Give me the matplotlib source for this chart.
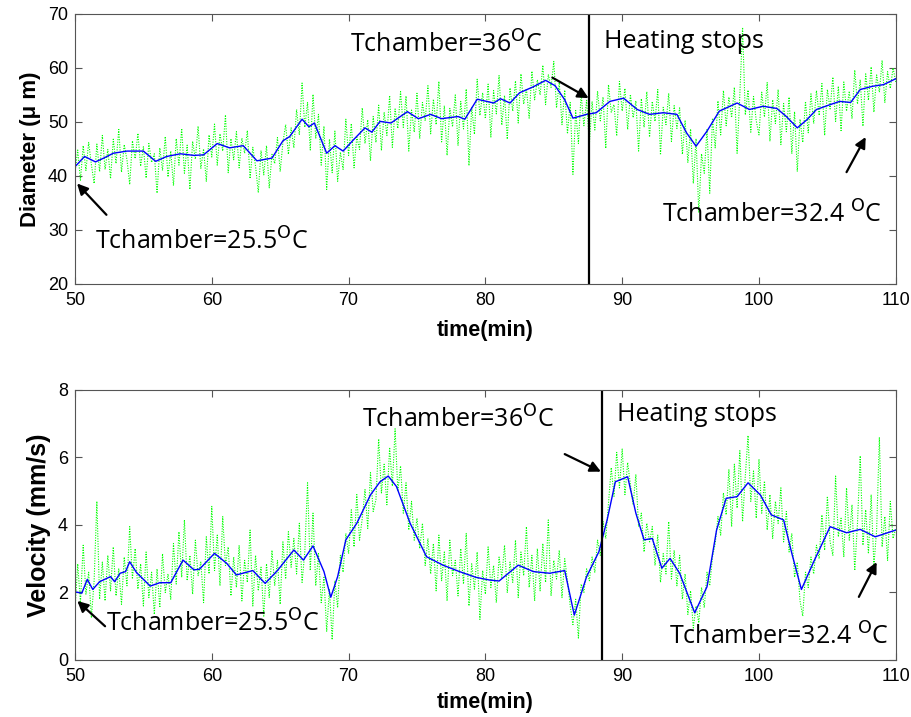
import numpy as np
import matplotlib
matplotlib.use("Agg")
import matplotlib.pyplot as plt

# ---- data ----
t_raw = np.linspace(50, 110, 301)   # raw samples every 0.2 min

diam_raw = [
    40.5, 44.8, 39.2, 45.6, 41.0, 46.2, 42.1, 38.6, 45.9, 40.8,
    47.5, 41.2, 44.9, 39.5, 46.8, 42.3, 48.6, 40.7, 45.8, 43.0,
    38.4, 46.5, 43.2, 47.9, 41.8, 45.4, 39.6, 46.0, 42.5, 44.1,
    36.8, 45.2, 41.0, 47.3, 39.8, 44.6, 38.2, 46.9, 42.0, 48.8,
    40.5, 45.7, 37.5, 46.4, 43.1, 49.2, 41.4, 45.0, 39.0, 47.6,
    43.5, 49.6, 42.0, 47.8, 44.6, 51.3, 40.6, 46.9, 43.0, 48.2,
    41.5, 47.0, 44.2, 48.4, 39.5, 45.3, 41.8, 36.9, 44.7, 40.2,
    45.6, 37.8, 44.0, 42.3, 47.1, 40.8, 46.2, 49.5, 44.0, 48.9,
    45.2, 52.3, 47.6, 57.2, 49.0, 53.6, 44.8, 55.1, 47.0, 51.4,
    42.0, 49.2, 37.5, 46.8, 40.6, 48.3, 39.0, 44.4, 41.2, 50.5,
    43.8, 49.7, 41.5, 47.2, 44.9, 52.6, 46.0, 50.4, 42.8, 51.0,
    46.2, 53.1, 44.7, 51.8, 47.5, 54.9, 45.3, 52.4, 48.8, 55.6,
    49.0, 54.8, 44.6, 52.2, 48.1, 55.3, 46.9, 53.6, 50.2, 56.7,
    47.8, 54.2, 49.5, 57.5, 46.3, 53.0, 43.8, 52.5, 49.1, 55.0,
    45.6, 53.8, 48.7, 56.1, 41.9, 52.8, 47.7, 57.9, 51.2, 55.4,
    50.6, 57.0, 47.2, 55.8, 51.5, 58.6, 49.4, 54.9, 46.8, 56.3,
    52.0, 57.6, 49.8, 58.9, 53.3, 56.2, 50.7, 59.4, 54.1, 57.8,
    55.0, 60.5, 53.2, 58.8, 56.4, 61.2, 52.6, 57.3, 49.5, 55.9,
    47.8, 53.6, 40.3, 52.1, 46.0, 55.2, 49.3, 54.0, 45.9, 53.8,
    48.5, 55.7, 50.2, 54.6, 45.1, 56.9, 51.8, 53.2, 47.4, 57.5,
    52.0, 56.2, 48.6, 55.1, 50.8, 53.9, 44.6, 54.3, 49.0, 55.6,
    47.2, 53.8, 50.1, 56.0, 43.9, 52.7, 49.5, 55.3, 46.4, 53.0,
    48.8, 52.6, 44.0, 50.3, 42.5, 48.7, 38.6, 46.9, 33.2, 44.1,
    40.5, 48.6, 36.8, 50.7, 45.2, 53.9, 47.6, 55.8, 49.3, 54.6,
    50.8, 56.4, 44.2, 55.0, 67.5, 51.3, 55.9, 48.1, 54.7, 50.2,
    47.6, 55.5, 50.9, 57.3, 46.4, 54.1, 49.7, 56.0, 45.8, 53.4,
    48.2, 54.6, 44.1, 51.9, 40.8, 50.5, 46.2, 53.8, 48.0, 55.2,
    49.7, 55.8, 51.2, 57.1, 47.5, 56.0, 52.4, 58.3, 50.1, 56.6,
    48.4, 57.4, 52.0, 55.7, 50.6, 59.6, 53.3, 57.8, 49.2, 58.9,
    54.0, 60.2, 51.8, 58.7, 55.5, 61.4, 53.6, 59.3, 56.2, 60.0,
    57.4,
]

vel_raw = [
    1.45, 2.85, 1.70, 3.40, 1.95, 2.60, 1.25, 2.35, 4.70, 1.80,
    2.90, 1.75, 3.10, 2.05, 3.35, 1.90, 2.70, 1.65, 3.05, 2.20,
    3.95, 2.40, 3.30, 2.10, 2.85, 1.60, 3.20, 1.85, 2.60, 1.35,
    2.70, 1.55, 3.15, 2.00, 2.55, 1.80, 3.45, 2.25, 3.80, 2.45,
    4.15, 2.35, 3.10, 1.95, 3.55, 2.50, 2.90, 1.70, 3.65, 2.55,
    4.55, 2.65, 3.70, 2.20, 4.25, 2.80, 3.35, 1.90, 3.05, 2.15,
    3.40, 1.75, 2.95, 2.30, 3.85, 1.60, 3.10, 2.05, 2.75, 1.30,
    2.85, 1.85, 3.25, 2.20, 2.95, 1.65, 3.50, 2.40, 3.80, 2.75,
    3.60, 2.55, 4.05, 2.30, 3.20, 5.25, 2.65, 4.35, 2.20, 3.15,
    1.70, 2.45, 0.85, 2.10, 0.60, 2.35, 1.55, 3.10, 2.60, 3.75,
    3.15, 4.45, 3.35, 4.90, 3.55, 4.20, 5.05, 3.90, 5.55, 4.40,
    4.75, 6.55, 4.95, 5.80, 4.60, 6.30, 5.15, 6.85, 5.00, 5.75,
    4.35, 5.25, 3.85, 4.70, 3.55, 4.20, 3.30, 4.05, 2.80, 3.60,
    2.55, 3.45, 2.05, 3.70, 2.35, 3.20, 1.75, 3.55, 2.50, 2.95,
    1.90, 3.30, 2.25, 3.75, 1.60, 2.85, 2.10, 3.20, 1.20, 2.65,
    1.95, 3.35, 2.15, 2.80, 1.70, 3.05, 2.45, 3.40, 2.00, 2.90,
    2.30, 3.55, 1.85, 3.20, 2.50, 3.95, 2.15, 3.10, 1.75, 3.30,
    2.05, 3.45, 2.30, 4.15, 1.90, 2.95, 2.40, 3.25, 1.85, 3.00,
    2.35, 1.60, 1.05, 1.80, 0.65, 2.25, 2.00, 2.70, 2.35, 3.05,
    2.60, 3.55, 3.10, 4.10, 3.60, 4.65, 5.70, 4.85, 6.15, 5.10,
    6.25, 4.90, 5.85, 5.20, 4.60, 5.50, 3.95, 4.35, 3.20, 4.05,
    3.50, 3.95, 2.80, 3.70, 2.30, 3.15, 2.55, 4.10, 2.40, 3.25,
    2.20, 3.10, 1.80, 2.55, 1.35, 2.05, 0.95, 1.60, 1.10, 2.15,
    1.55, 2.60, 2.20, 3.05, 3.45, 4.25, 3.70, 4.95, 4.30, 5.65,
    3.95, 5.80, 4.50, 6.20, 4.10, 5.45, 6.65, 4.70, 5.60, 4.20,
    5.95, 4.35, 5.30, 3.85, 4.90, 3.60, 4.70, 4.05, 5.10, 3.50,
    4.40, 3.20, 3.75, 2.45, 2.90, 1.75, 1.30, 2.60, 2.15, 3.05,
    2.55, 3.40, 3.00, 4.30, 3.25, 4.85, 3.50, 3.10, 5.45, 3.65,
    4.20, 3.05, 5.10, 3.55, 4.60, 2.65, 4.05, 6.05, 3.40, 4.45,
    3.15, 4.90, 2.80, 3.85, 6.60, 3.35, 4.25, 2.95, 4.70, 3.60,
    3.90,
]

# smoothed curves (blue)
t_dsm = [50.0, 50.7, 51.5, 52.1, 52.8, 53.8, 55.0, 55.9, 56.7, 57.7, 58.7, 59.4,
         60.4, 61.3, 62.3, 63.3, 64.4, 65.2, 65.7, 66.6, 67.1, 67.5, 68.4, 69.0,
         69.6, 70.4, 71.2, 71.7, 72.3, 73.1, 74.3, 75.1, 76.0, 76.8, 78.0, 78.5,
         79.4, 80.1, 80.6, 81.1, 81.8, 82.5, 83.5, 84.4, 85.1, 85.8, 86.4, 87.4,
         88.1, 89.1, 90.1, 91.1, 92.0, 93.0, 94.0, 94.7, 95.4, 96.2, 97.1, 98.4,
         99.3, 100.3, 101.3, 102.0, 102.8, 103.5, 104.2, 105.2, 105.9, 106.7,
         107.4, 108.3, 109.1, 110.0]
diam_sm = [41.7, 43.6, 42.6, 43.3, 44.2, 44.6, 44.6, 42.7, 43.6, 44.1, 43.8, 43.9,
           46.0, 45.2, 45.6, 42.8, 43.3, 46.5, 47.3, 50.5, 49.1, 49.8, 44.2, 45.6,
           44.6, 46.8, 48.9, 48.1, 50.1, 49.8, 51.9, 50.6, 51.4, 50.6, 51.0, 50.5,
           54.2, 53.8, 53.5, 54.3, 53.5, 55.4, 56.5, 57.7, 56.7, 54.1, 50.7, 51.4,
           51.7, 53.8, 54.4, 52.3, 51.4, 51.7, 51.4, 48.0, 45.5, 48.3, 52.0, 53.5,
           52.3, 52.9, 52.5, 51.0, 48.9, 50.4, 52.3, 53.2, 53.8, 53.6,
           56.0, 56.6, 56.9, 58.0]

t_vsm = [50.0, 50.5, 50.9, 51.3, 51.8, 52.6, 52.9, 53.3, 53.7, 54.0, 54.5, 55.5,
         56.2, 57.0, 57.9, 58.7, 59.1, 60.2, 61.1, 61.8, 63.0, 63.9, 64.8, 66.0,
         66.7, 67.4, 68.2, 68.7, 69.2, 69.8, 70.6, 71.6, 72.3, 72.9, 73.5, 74.5,
         75.7, 76.9, 78.1, 79.3, 80.3, 81.0, 82.4, 83.5, 84.7, 85.8, 86.5, 87.4,
         88.3, 88.9, 89.5, 90.4, 91.0, 91.6, 92.2, 92.9, 93.5, 94.2, 95.3, 96.2,
         96.9, 97.6, 98.4, 99.2, 100.1, 100.9, 101.8, 102.4, 103.1, 104.0, 105.2,
         106.4, 107.4, 108.5, 110.0]
vel_sm = [2.02, 1.98, 2.39, 2.09, 2.32, 2.47, 2.32, 2.57, 2.62, 2.91, 2.59, 2.19,
          2.29, 2.29, 2.96, 2.67, 2.69, 3.16, 2.86, 2.52, 2.65, 2.27, 2.65, 3.26,
          2.96, 3.38, 2.62, 1.86, 2.47, 3.56, 4.05, 4.89, 5.28, 5.45, 5.14, 4.05,
          3.06, 2.81, 2.62, 2.45, 2.37, 2.34, 2.81, 2.62, 2.57, 2.65, 1.33, 2.47,
          3.21, 4.15, 5.28, 5.43, 4.35, 3.56, 3.60, 2.72, 3.01, 2.57, 1.40, 2.17,
          3.85, 4.79, 4.84, 5.25, 4.89, 4.30, 4.15, 3.16, 2.09, 2.91, 3.95,
          3.77, 3.87, 3.65, 3.85]

stop_d = 87.6   # heating stops, top panel
stop_v = 88.5   # heating stops, bottom panel

lbl_font = "Open Sans"
tick_font = "Liberation Sans"


def style_axes(ax, xpad):
    ax.tick_params(direction="in", top=True, right=True, length=5,
                   width=0.8, color="#555555", labelsize=13)
    ax.tick_params(axis="x", pad=6)
    ax.tick_params(axis="y", pad=5)
    for lab in ax.get_xticklabels() + ax.get_yticklabels():
        lab.set_fontfamily(tick_font)
    for s in ax.spines.values():
        s.set_color("#555555")
        s.set_linewidth(0.8)
    ax.set_xlim(50, 110)
    ax.set_xticks(range(50, 111, 10))
    ax.set_xlabel("time(min)", fontsize=15.5, fontweight="bold",
                  family="Liberation Sans", labelpad=xpad)


fig = plt.figure(figsize=(9.11, 7.17), dpi=100)
ax1 = fig.add_axes([0.0823, 0.604, 0.901, 0.3766])
ax2 = fig.add_axes([0.0823, 0.0795, 0.901, 0.3766])

arrow = dict(arrowstyle="-|>", color="black", lw=1.6, mutation_scale=16,
             shrinkA=0, shrinkB=0)
green = dict(color="#00ff00", lw=0.8, dashes=(1, 1.3))

# ---- diameter ----
ax1.plot(t_raw, diam_raw, **green)
ax1.plot(t_dsm, diam_sm, "-", color="#0000ff", lw=1.0)
ax1.axvline(stop_d, color="black", lw=1.6)
ax1.set_ylim(20, 70)
ax1.set_yticks(range(20, 71, 10))
style_axes(ax1, 8)
ax1.set_ylabel("Diameter (\u03bc m)", fontsize=16, fontweight="bold",
               family="Liberation Sans", labelpad=5)

ax1.text(51.45, 27.8, "Tchamber=25.5$^{\\mathrm{O}}$C", fontsize=18,
         family=lbl_font, va="center")
ax1.annotate("", xy=(50.15, 38.6), xytext=(52.3, 32.8), arrowprops=arrow)
ax1.text(70.1, 64.3, "Tchamber=36$^{\\mathrm{O}}$C", fontsize=18,
         family=lbl_font, va="center")
ax1.annotate("", xy=(87.55, 54.4), xytext=(84.9, 58.2), arrowprops=arrow)
ax1.text(88.7, 64.8, "Heating stops", fontsize=18, family=lbl_font,
         va="center")
ax1.text(92.9, 32.8, "Tchamber=32.4 $^{\\mathrm{O}}$C", fontsize=18,
         family=lbl_font, va="center")
ax1.annotate("", xy=(107.8, 47.2), xytext=(106.4, 40.7), arrowprops=arrow)

# ---- velocity ----
ax2.plot(t_raw, vel_raw, **green)
ax2.plot(t_vsm, vel_sm, "-", color="#0000ff", lw=1.0)
ax2.axvline(stop_v, color="black", lw=1.6)
ax2.set_ylim(0, 8)
ax2.set_yticks(range(0, 9, 2))
style_axes(ax2, 5)
ax2.set_ylabel("Velocity (mm/s)", fontsize=18, fontweight="bold",
               family="Liberation Sans", labelpad=5)

ax2.text(52.3, 1.07, "Tchamber=25.5$^{\\mathrm{O}}$C", fontsize=18,
         family=lbl_font, va="center")
ax2.annotate("", xy=(50.17, 1.75), xytext=(52.2, 1.0), arrowprops=arrow)
ax2.text(70.95, 7.1, "Tchamber=36$^{\\mathrm{O}}$C", fontsize=18,
         family=lbl_font, va="center")
ax2.annotate("", xy=(88.45, 5.58), xytext=(85.8, 6.1), arrowprops=arrow)
ax2.text(89.6, 7.26, "Heating stops", fontsize=18, family=lbl_font,
         va="center")
ax2.text(93.4, 0.68, "Tchamber=32.4 $^{\\mathrm{O}}$C", fontsize=18,
         family=lbl_font, va="center")
ax2.annotate("", xy=(108.6, 2.9), xytext=(107.3, 1.87), arrowprops=arrow)

fig.savefig("out.png", dpi=100)
